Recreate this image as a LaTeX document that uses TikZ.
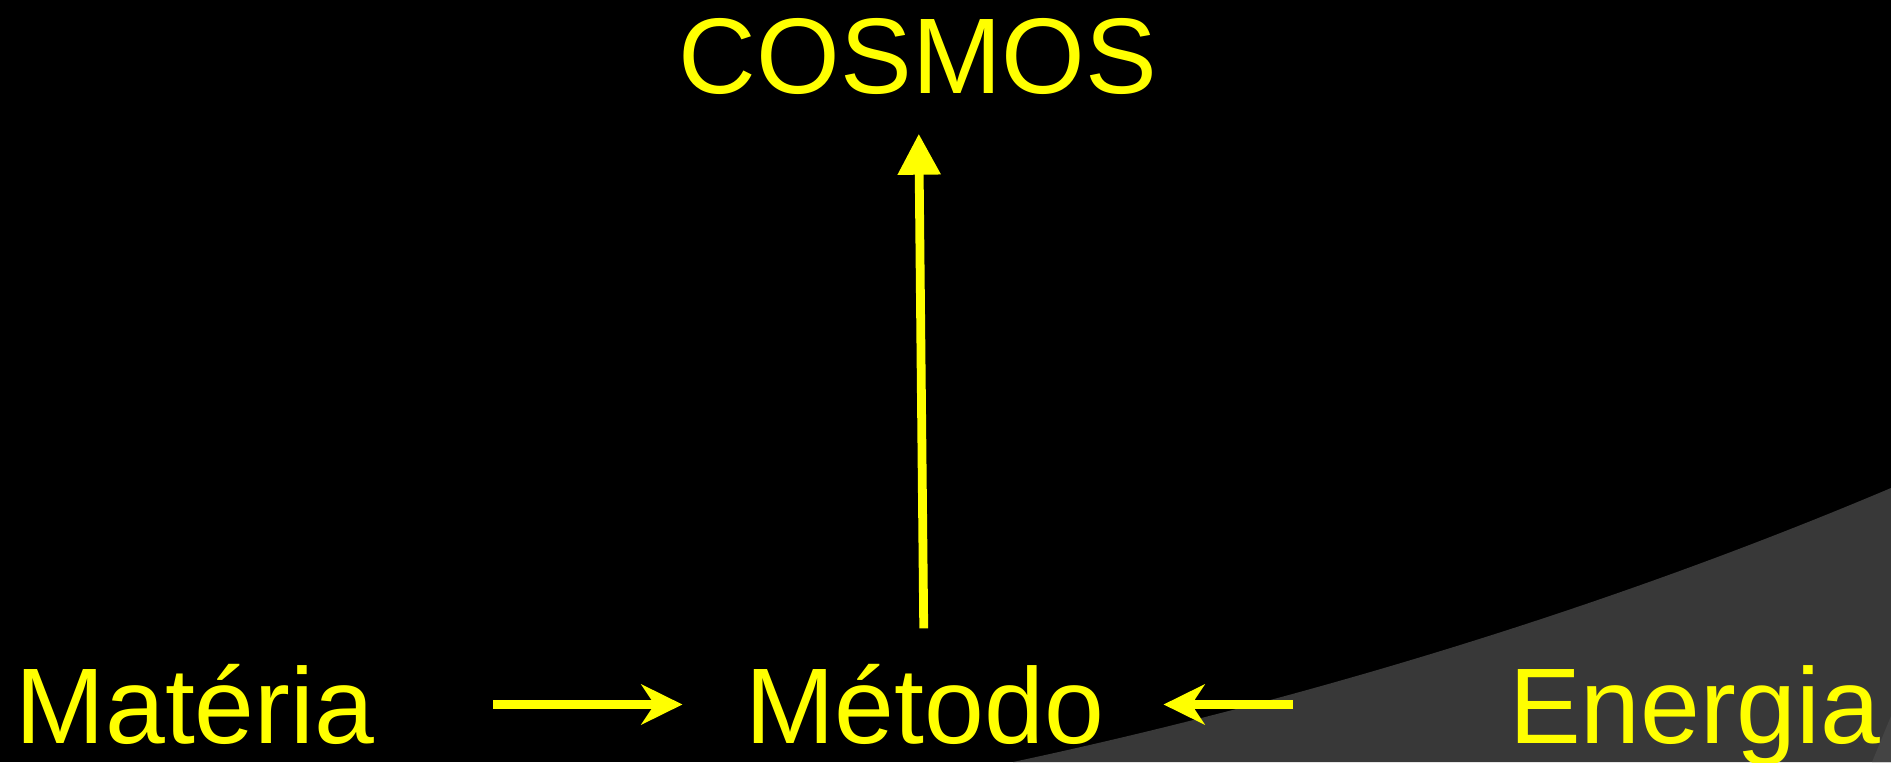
\documentclass[tikz,border=0pt]{standalone}
\usepackage{fontspec}
\setmainfont{Liberation Sans}
\usepackage{xcolor}
\usetikzlibrary{arrows.meta, positioning}

\definecolor{slidegray}{HTML}{383838}
\definecolor{curlgray}{HTML}{444444}
\definecolor{labelyellow}{HTML}{FFFF00}

\begin{document}
\begin{tikzpicture}[
    term/.style={inner sep=0pt, text height=0.77cm, text depth=0pt,
                 text=labelyellow, font=\fontsize{30.6pt}{36pt}\selectfont},
    arr/.style={-{Stealth[length=0.41cm, width=0.40cm, inset=0.13cm]},
                line width=2.3pt, draw=labelyellow},
    uparr/.style={-{Triangle[length=0.41cm, width=0.41cm]},
                  line width=2.5pt, draw=labelyellow},
]
    % Background
    \useasboundingbox (0,0) rectangle (18.91,7.62);
    \fill[black] (0,0) rectangle (18.91,7.62);
    \fill[slidegray] (10.13,0) .. controls (13.5,0.72) and (16.5,1.72) .. (18.91,2.74)
        -- (18.91,0) -- cycle;
    \fill[curlgray] (18.91,0.46) -- (18.91,0) -- (18.72,0) -- cycle;

    % Labels
    \node[term, anchor=base] (cosmos) at (9.18,6.68) {COSMOS};
    \node[term, anchor=base west] (materia) at (0.15,0.19) {Matéria};
    \node[term, anchor=base] (metodo) at (9.245,0.19) {Método};
    \node[term, anchor=base west] (energia) at (15.085,0.19) {Energia};

    % Arrows
    \draw[arr, shorten <=1.18cm, shorten >=0.62cm] (materia) -- (metodo);
    \draw[arr, shorten <=2.155cm, shorten >=0.59cm] (energia) -- (metodo);
    \draw[uparr, shorten <=0.37cm, shorten >=0.39cm] (metodo) -- (cosmos);

\end{tikzpicture}
\end{document}
